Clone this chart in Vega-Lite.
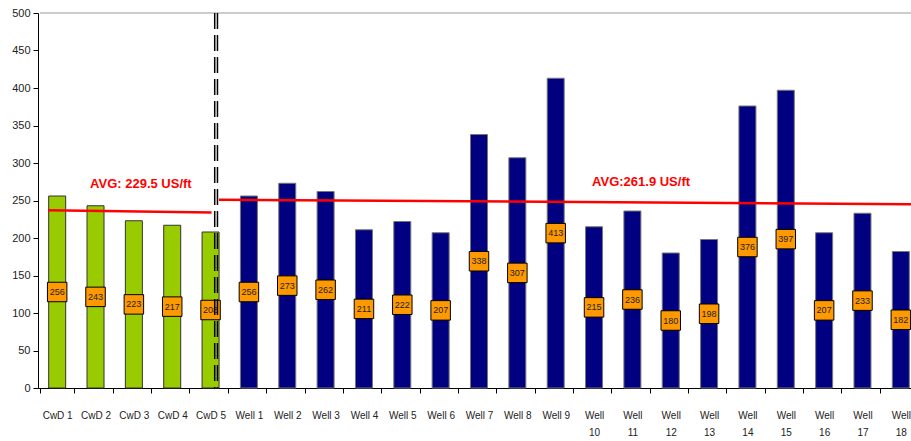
{
  "$schema": "https://vega.github.io/schema/vega-lite/v6.json",
  "width": 882,
  "height": 375,
  "autosize": {"type": "none"},
  "padding": {"left": 38, "top": 13, "right": -9, "bottom": 53},
  "background": "white",
  "config": {"view": {"stroke": null}, "font": "Liberation Sans"},
  "data": {"values": [
    {"cat": "CwD 1", "value": 256, "grp": "CwD"},
    {"cat": "CwD 2", "value": 243, "grp": "CwD"},
    {"cat": "CwD 3", "value": 223, "grp": "CwD"},
    {"cat": "CwD 4", "value": 217, "grp": "CwD"},
    {"cat": "CwD 5", "value": 208, "grp": "CwD"},
    {"cat": "Well 1", "value": 256, "grp": "Well"},
    {"cat": "Well 2", "value": 273, "grp": "Well"},
    {"cat": "Well 3", "value": 262, "grp": "Well"},
    {"cat": "Well 4", "value": 211, "grp": "Well"},
    {"cat": "Well 5", "value": 222, "grp": "Well"},
    {"cat": "Well 6", "value": 207, "grp": "Well"},
    {"cat": "Well 7", "value": 338, "grp": "Well"},
    {"cat": "Well 8", "value": 307, "grp": "Well"},
    {"cat": "Well 9", "value": 413, "grp": "Well"},
    {"cat": "Well 10", "value": 215, "grp": "Well"},
    {"cat": "Well 11", "value": 236, "grp": "Well"},
    {"cat": "Well 12", "value": 180, "grp": "Well"},
    {"cat": "Well 13", "value": 198, "grp": "Well"},
    {"cat": "Well 14", "value": 376, "grp": "Well"},
    {"cat": "Well 15", "value": 397, "grp": "Well"},
    {"cat": "Well 16", "value": 207, "grp": "Well"},
    {"cat": "Well 17", "value": 233, "grp": "Well"},
    {"cat": "Well 18", "value": 182, "grp": "Well"}
  ]},
  "resolve": {"scale": {"y": "independent"}},
  "layer": [
    {
      "mark": {"type": "bar", "size": 17, "strokeWidth": 1},
      "encoding": {
        "x": {"field": "cat", "type": "nominal", "sort": null, "title": null,
          "scale": {"domain": ["CwD 1","CwD 2","CwD 3","CwD 4","CwD 5","Well 1","Well 2","Well 3","Well 4","Well 5","Well 6","Well 7","Well 8","Well 9","Well 10","Well 11","Well 12","Well 13","Well 14","Well 15","Well 16","Well 17","Well 18"]},
          "axis": {"labelAngle": 0, "tickBand": "extent", "tickSize": 5, "tickColor": "#000", "domainColor": "#000", "labelFontSize": 10, "labelColor": "#222", "labelPadding": 17, "labelLineHeight": 17, "labelExpr": "length(datum.label) > 6 ? split(datum.label, ' ') : datum.label"}},
        "y": {"field": "value", "type": "quantitative", "title": null,
          "scale": {"domain": [0, 500], "nice": false},
          "axis": {"values": [0,50,100,150,200,250,300,350,400,450,500], "grid": false, "tickSize": 5, "tickColor": "#000", "domainColor": "#000", "labelFontSize": 11, "labelColor": "#222", "labelPadding": 3}},
        "color": {"field": "grp", "type": "nominal", "scale": {"domain": ["CwD", "Well"], "range": ["#99CC00", "#000080"]}, "legend": null},
        "stroke": {"field": "grp", "type": "nominal", "scale": {"domain": ["CwD", "Well"], "range": ["#333333", "#777777"]}, "legend": null}
      }
    },
    {
      "data": {"values": [{"cat": "CwD 1", "cat2": "Well 18", "y": 500}]},
      "mark": {"type": "rule", "color": "#bbbbbb", "strokeWidth": 1.5},
      "encoding": {
        "x": {"field": "cat", "type": "nominal", "bandPosition": 0, "scale": {"domain": ["CwD 1","CwD 2","CwD 3","CwD 4","CwD 5","Well 1","Well 2","Well 3","Well 4","Well 5","Well 6","Well 7","Well 8","Well 9","Well 10","Well 11","Well 12","Well 13","Well 14","Well 15","Well 16","Well 17","Well 18"]}},
        "x2": {"field": "cat2", "bandPosition": 1},
        "y": {"field": "y", "type": "quantitative", "scale": {"domain": [0, 500]}, "axis": null}
      }
    },
    {
      "mark": {"type": "point", "shape": "square", "filled": true, "size": 380, "color": "#FF9900", "stroke": "#000", "strokeWidth": 1, "opacity": 1},
      "encoding": {
        "x": {"field": "cat", "type": "nominal", "sort": null, "scale": {"domain": ["CwD 1","CwD 2","CwD 3","CwD 4","CwD 5","Well 1","Well 2","Well 3","Well 4","Well 5","Well 6","Well 7","Well 8","Well 9","Well 10","Well 11","Well 12","Well 13","Well 14","Well 15","Well 16","Well 17","Well 18"]}},
        "y": {"field": "value", "type": "quantitative", "scale": {"domain": [0, 1000], "nice": false}, "axis": null}
      }
    },
    {
      "mark": {"type": "text", "fontSize": 9, "color": "#222"},
      "encoding": {
        "x": {"field": "cat", "type": "nominal", "sort": null, "scale": {"domain": ["CwD 1","CwD 2","CwD 3","CwD 4","CwD 5","Well 1","Well 2","Well 3","Well 4","Well 5","Well 6","Well 7","Well 8","Well 9","Well 10","Well 11","Well 12","Well 13","Well 14","Well 15","Well 16","Well 17","Well 18"]}},
        "y": {"field": "value", "type": "quantitative", "scale": {"domain": [0, 1000], "nice": false}, "axis": null},
        "text": {"field": "value", "type": "quantitative"}
      }
    },
    {
      "data": {"values": [{"cat": "CwD 5", "y": 500, "y0": 0}]},
      "mark": {"type": "rule", "color": "#000", "strokeWidth": 1.5, "strokeDash": [16, 6]},
      "encoding": {
        "x": {"field": "cat", "type": "nominal", "bandPosition": 0.62, "scale": {"domain": ["CwD 1","CwD 2","CwD 3","CwD 4","CwD 5","Well 1","Well 2","Well 3","Well 4","Well 5","Well 6","Well 7","Well 8","Well 9","Well 10","Well 11","Well 12","Well 13","Well 14","Well 15","Well 16","Well 17","Well 18"]}},
        "y": {"field": "y", "type": "quantitative", "scale": {"domain": [0, 500]}, "axis": null},
        "y2": {"field": "y0"}
      }
    },
    {
      "data": {"values": [{"cat": "CwD 5", "y": 500, "y0": 0}]},
      "mark": {"type": "rule", "color": "#000", "strokeWidth": 1.5, "strokeDash": [16, 6]},
      "encoding": {
        "x": {"field": "cat", "type": "nominal", "bandPosition": 0.7, "scale": {"domain": ["CwD 1","CwD 2","CwD 3","CwD 4","CwD 5","Well 1","Well 2","Well 3","Well 4","Well 5","Well 6","Well 7","Well 8","Well 9","Well 10","Well 11","Well 12","Well 13","Well 14","Well 15","Well 16","Well 17","Well 18"]}},
        "y": {"field": "y", "type": "quantitative", "scale": {"domain": [0, 500]}, "axis": null},
        "y2": {"field": "y0"}
      }
    },
    {
      "data": {"values": [{"cat": "CwD 1", "cat2": "CwD 5", "y": 237, "y2": 234}]},
      "mark": {"type": "rule", "color": "#FF0000", "strokeWidth": 2.5},
      "encoding": {
        "x": {"field": "cat", "type": "nominal", "bandPosition": 0.24, "scale": {"domain": ["CwD 1","CwD 2","CwD 3","CwD 4","CwD 5","Well 1","Well 2","Well 3","Well 4","Well 5","Well 6","Well 7","Well 8","Well 9","Well 10","Well 11","Well 12","Well 13","Well 14","Well 15","Well 16","Well 17","Well 18"]}},
        "x2": {"field": "cat2", "bandPosition": 0.53},
        "y": {"field": "y", "type": "quantitative", "scale": {"domain": [0, 500]}, "axis": null},
        "y2": {"field": "y2"}
      }
    },
    {
      "data": {"values": [{"cat": "CwD 5", "cat2": "Well 18", "y": 251, "y2": 245}]},
      "mark": {"type": "rule", "color": "#FF0000", "strokeWidth": 2.5},
      "encoding": {
        "x": {"field": "cat", "type": "nominal", "bandPosition": 0.74, "scale": {"domain": ["CwD 1","CwD 2","CwD 3","CwD 4","CwD 5","Well 1","Well 2","Well 3","Well 4","Well 5","Well 6","Well 7","Well 8","Well 9","Well 10","Well 11","Well 12","Well 13","Well 14","Well 15","Well 16","Well 17","Well 18"]}},
        "x2": {"field": "cat2", "bandPosition": 1},
        "y": {"field": "y", "type": "quantitative", "scale": {"domain": [0, 500]}, "axis": null},
        "y2": {"field": "y2"}
      }
    },
    {
      "data": {"values": [{"cat": "CwD 3", "y": 272, "t": "AVG: 229.5 US/ft"}]},
      "mark": {"type": "text", "color": "#FF0000", "fontWeight": "bold", "fontSize": 13, "align": "center", "dx": 7},
      "encoding": {
        "x": {"field": "cat", "type": "nominal", "scale": {"domain": ["CwD 1","CwD 2","CwD 3","CwD 4","CwD 5","Well 1","Well 2","Well 3","Well 4","Well 5","Well 6","Well 7","Well 8","Well 9","Well 10","Well 11","Well 12","Well 13","Well 14","Well 15","Well 16","Well 17","Well 18"]}},
        "y": {"field": "y", "type": "quantitative", "scale": {"domain": [0, 500]}, "axis": null},
        "text": {"field": "t"}
      }
    },
    {
      "data": {"values": [{"cat": "Well 10", "y": 275, "t": "AVG:261.9 US/ft"}]},
      "mark": {"type": "text", "color": "#FF0000", "fontWeight": "bold", "fontSize": 13, "align": "left", "dx": -2},
      "encoding": {
        "x": {"field": "cat", "type": "nominal", "scale": {"domain": ["CwD 1","CwD 2","CwD 3","CwD 4","CwD 5","Well 1","Well 2","Well 3","Well 4","Well 5","Well 6","Well 7","Well 8","Well 9","Well 10","Well 11","Well 12","Well 13","Well 14","Well 15","Well 16","Well 17","Well 18"]}},
        "y": {"field": "y", "type": "quantitative", "scale": {"domain": [0, 500]}, "axis": null},
        "text": {"field": "t"}
      }
    }
  ]
}
